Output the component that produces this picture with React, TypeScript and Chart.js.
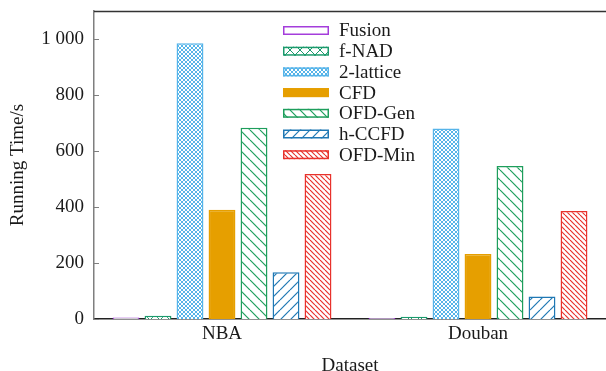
import React, { useEffect, useRef } from 'react';
import { Chart, registerables } from 'chart.js';
Chart.register(...registerables);

const categories = ['NBA', 'Douban'];
const seriesNames = ['Fusion', 'f-NAD', '2-lattice', 'CFD', 'OFD-Gen', 'h-CCFD', 'OFD-Min'];
const fusion = [5, 4];
const fNAD = [12, 8];
const lattice2 = [985, 680];
const cfd = [390, 232];
const ofdGen = [683, 546];
const hCCFD = [167, 80];
const ofdMin = [518, 386];
const yTickValues = [0, 200, 400, 600, 800, 1000];

const seriesValues = [fusion, fNAD, lattice2, cfd, ofdGen, hCCFD, ofdMin];
const seriesColors = ['#a43ddb', '#1b9a6c', '#56b4e9', '#e69f00', '#1e9e5c', '#1f78b4', '#e8322c'];

const FONT = '"Liberation Serif", "Times New Roman", serif';

function makePattern(kind: string, color: string, size: number, lw: number): CanvasPattern | string {
  const c = document.createElement('canvas');
  c.width = size;
  c.height = size;
  const g = c.getContext('2d');
  if (!g) return color;
  g.fillStyle = '#ffffff';
  g.fillRect(0, 0, size, size);
  g.strokeStyle = color;
  g.lineWidth = lw;
  const back = () => {
    for (const k of [-1, 0, 1]) {
      g.beginPath();
      g.moveTo(k * size, 0);
      g.lineTo(k * size + size, size);
      g.stroke();
    }
  };
  const fwd = () => {
    for (const k of [-1, 0, 1]) {
      g.beginPath();
      g.moveTo(k * size, size);
      g.lineTo(k * size + size, 0);
      g.stroke();
    }
  };
  if (kind === 'back') back();
  else if (kind === 'fwd') fwd();
  else {
    back();
    fwd();
  }
  const p = g.createPattern(c, 'repeat');
  return p || color;
}

export default function App() {
  const ref = useRef<HTMLCanvasElement | null>(null);

  useEffect(() => {
    if (!ref.current) return;
    const fills: any[] = [
      '#ffffff',
      makePattern('cross', seriesColors[1], 10, 1),
      makePattern('cross', seriesColors[2], 4, 1),
      seriesColors[3],
      makePattern('back', seriesColors[4], 10, 1.2),
      makePattern('fwd', seriesColors[5], 10, 1.2),
      makePattern('back', seriesColors[6], 5, 1.2),
    ];

    const frame = {
      id: 'frame',
      afterDraw(chart: any) {
        const { ctx, chartArea } = chart;
        ctx.save();
        ctx.strokeStyle = '#333333';
        ctx.lineWidth = 1.5;
        ctx.beginPath();
        ctx.moveTo(chartArea.left, chartArea.top + 0.5);
        ctx.lineTo(chartArea.right, chartArea.top + 0.5);
        ctx.stroke();
        const ys = chart.scales.y;
        ctx.strokeStyle = '#7f7f7f';
        ctx.lineWidth = 1;
        for (const v of yTickValues) {
          const py = Math.round(ys.getPixelForValue(v)) + 0.5;
          ctx.beginPath();
          ctx.moveTo(chartArea.left, py);
          ctx.lineTo(chartArea.left + 5, py);
          ctx.stroke();
        }
        const x0 = 283, w = 46, h = 9, textX = 339;
        chart.data.datasets.forEach((ds: any, i: number) => {
          const cy = 30.5 + i * 20.7;
          ctx.fillStyle = ds.backgroundColor;
          ctx.fillRect(x0, cy - h / 2, w, h);
          ctx.strokeStyle = ds.borderColor;
          ctx.lineWidth = 1.5;
          ctx.strokeRect(x0 + 0.75, cy - h / 2 + 0.75, w - 1.5, h - 1.5);
          ctx.fillStyle = '#1a1a1a';
          ctx.font = '19px ' + FONT;
          ctx.textBaseline = 'middle';
          ctx.textAlign = 'left';
          ctx.fillText(ds.label, textX, cy + 1);
        });
        ctx.restore();
      },
    };

    const chart = new Chart(ref.current, {
      type: 'bar',
      data: {
        labels: categories,
        datasets: seriesNames.map((name, i) => ({
          label: name,
          data: seriesValues[i],
          backgroundColor: fills[i],
          borderColor: seriesColors[i],
          borderWidth: 1.5,
          categoryPercentage: 0.875,
          barPercentage: 0.84,
        })),
      },
      options: {
        animation: false,
        responsive: false,
        devicePixelRatio: 1,
        layout: { padding: { top: 11, right: 0, left: 0, bottom: 0 } },
        plugins: {
          legend: { display: false },
          tooltip: { enabled: false },
        },
        scales: {
          x: {
            type: 'category',
            offset: true,
            grid: { display: false, drawTicks: false },
            border: { display: true, color: '#222222', width: 1.5 },
            ticks: {
              color: '#1a1a1a',
              font: { family: FONT, size: 19 },
              padding: 4,
            },
            title: {
              display: true,
              text: 'Dataset',
              color: '#1a1a1a',
              font: { family: FONT, size: 19 },
              padding: { top: 0, bottom: -6 },
            },
            afterFit(scale: any) {
              scale.height = 52;
              scale.paddingLeft = 0;
              scale.paddingRight = 0;
            },
          },
          y: {
            min: 0,
            max: 1100,
            grid: { display: false, drawTicks: false },
            border: { display: true, color: '#7f7f7f', width: 1.5 },
            ticks: {
              stepSize: 200,
              color: '#1a1a1a',
              font: { family: FONT, size: 19 },
              padding: 10,
              callback: (v: any) => {
                const n = Number(v);
                return n >= 1000 ? `${Math.floor(n / 1000)} ${String(n % 1000).padStart(3, '0')}` : String(n);
              },
            },
            afterBuildTicks(scale: any) {
              scale.ticks = yTickValues.map((v) => ({ value: v }));
            },
            title: {
              display: true,
              text: 'Running Time/s',
              color: '#1a1a1a',
              font: { family: FONT, size: 19 },
              padding: { top: 6.6, bottom: 0 },
            },
            afterFit(scale: any) {
              scale.width = 94;
              scale.paddingTop = 0;
              scale.paddingBottom = 0;
            },
          },
        },
      },
      plugins: [frame],
    } as any);
    return () => chart.destroy();
  }, []);

  return (
    <div style={{ position: 'fixed', left: 0, top: 0, width: 606, height: 371, background: '#fff' }}>
      <canvas ref={ref} width={606} height={371} style={{ display: 'block', width: 606, height: 371 }} />
    </div>
  );
}
